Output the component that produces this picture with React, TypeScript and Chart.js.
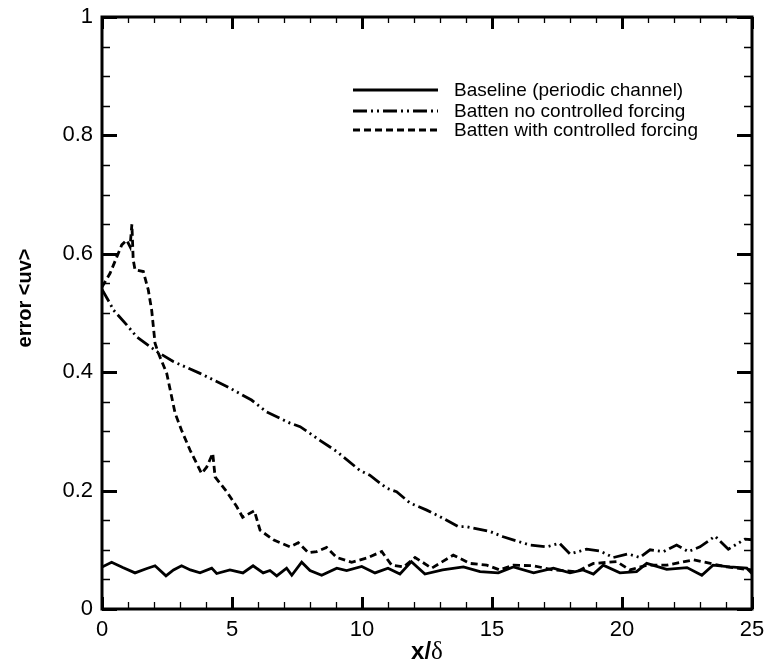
import React, { useEffect, useRef } from "react";
import { Chart, registerables } from "chart.js";

Chart.register(...registerables);

const seriesLabels = [
  "Baseline (periodic channel)",
  "Batten no controlled forcing",
  "Batten with controlled forcing",
];

const baselineX = [0, 0.37, 0.8, 1.27, 1.7, 2.04, 2.46, 2.75, 3.06, 3.4, 3.77, 4.22, 4.41, 4.92, 5.42, 5.81, 6.2, 6.46, 6.72, 7.1, 7.3, 7.68, 8.0, 8.45, 9.03, 9.41, 9.99, 10.5, 11.0, 11.46, 11.9, 12.42, 13.1, 13.9, 14.54, 15.24, 15.82, 16.6, 17.36, 18.0, 18.5, 18.9, 19.28, 19.92, 20.56, 20.95, 21.72, 22.5, 23.07, 23.5, 24.15, 24.8, 25];
const baselineY = [0.071, 0.079, 0.07, 0.061, 0.068, 0.073, 0.056, 0.066, 0.073, 0.066, 0.061, 0.069, 0.06, 0.066, 0.061, 0.073, 0.061, 0.065, 0.056, 0.069, 0.057, 0.079, 0.065, 0.057, 0.069, 0.065, 0.072, 0.061, 0.069, 0.059, 0.08, 0.059, 0.066, 0.071, 0.063, 0.061, 0.071, 0.061, 0.069, 0.061, 0.066, 0.059, 0.074, 0.061, 0.063, 0.077, 0.067, 0.07, 0.057, 0.074, 0.071, 0.069, 0.06];

const noForcingX = [0, 0.31, 0.44, 0.95, 1.33, 2.1, 2.74, 3.77, 4.8, 5.75, 6.33, 7.23, 7.62, 8.38, 9.03, 9.92, 10.3, 10.95, 11.33, 11.85, 12.49, 13.0, 13.71, 14.03, 14.92, 15.43, 15.95, 16.46, 17.1, 17.6, 18.0, 18.64, 19.15, 19.67, 20.24, 20.69, 21.08, 21.6, 22.1, 22.55, 23.0, 23.58, 24.09, 24.73, 25];
const noForcingY = [0.54, 0.516, 0.505, 0.48, 0.46, 0.435, 0.418, 0.398, 0.376, 0.353, 0.333, 0.314, 0.308, 0.285, 0.266, 0.234, 0.226, 0.204, 0.198, 0.179, 0.167, 0.156, 0.139, 0.139, 0.131, 0.122, 0.115, 0.108, 0.105, 0.111, 0.093, 0.101, 0.098, 0.087, 0.093, 0.087, 0.1, 0.097, 0.108, 0.097, 0.105, 0.123, 0.101, 0.118, 0.117];

const forcingX = [0, 0.31, 0.76, 0.95, 1.08, 1.15, 1.2, 1.27, 1.59, 1.78, 1.91, 2.04, 2.17, 2.49, 2.81, 3.06, 3.38, 3.83, 4.03, 4.26, 4.35, 4.8, 5.18, 5.41, 5.86, 6.08, 6.59, 7.23, 7.55, 7.94, 8.26, 8.64, 9.03, 9.6, 10.18, 10.76, 11.14, 11.6, 12.04, 12.68, 13.51, 14.15, 14.8, 15.3, 15.82, 16.6, 17.36, 18.26, 18.9, 19.8, 20.3, 20.95, 21.72, 22.74, 23.4, 24.03, 25];
const forcingY = [0.544, 0.567, 0.615, 0.623, 0.612, 0.65, 0.59, 0.573, 0.57, 0.539, 0.505, 0.449, 0.432, 0.398, 0.331, 0.302, 0.269, 0.229, 0.24, 0.263, 0.223, 0.198, 0.173, 0.155, 0.166, 0.133, 0.117, 0.105, 0.112, 0.095, 0.097, 0.104, 0.087, 0.079, 0.086, 0.097, 0.074, 0.071, 0.087, 0.069, 0.091, 0.077, 0.074, 0.066, 0.074, 0.073, 0.066, 0.063, 0.077, 0.08, 0.066, 0.074, 0.074, 0.083, 0.077, 0.071, 0.066];

const xTickStep = 5;
const yTickStep = 0.2;

const SANS = '"Liberation Sans", Arial, sans-serif';
const SERIF = '"Liberation Serif", "DejaVu Serif", serif';
const DASH_DOT_DOT = [14, 4, 2, 4, 2, 4];
const DASHED = [7, 4];

const toPoints = (xs: number[], ys: number[]) => xs.map((x, i) => ({ x, y: ys[i] }));

const decorPlugin = {
  id: "decor",
  afterDraw(chart: any) {
    const ctx = chart.ctx as CanvasRenderingContext2D;
    const { left, right, top, bottom } = chart.chartArea;
    const xs = chart.scales.x;
    const ys = chart.scales.y;
    ctx.save();
    ctx.strokeStyle = "#000";
    ctx.lineCap = "butt";
    for (let i = 0; i <= 25; i++) {
      const px = Math.round(xs.getPixelForValue(i)) + 0.5;
      const major = i % 5 === 0;
      ctx.lineWidth = major ? 3 : 1.3;
      const lb = major ? 12 : 7;
      const lt = major ? 12 : 6;
      ctx.beginPath();
      ctx.moveTo(px, bottom);
      ctx.lineTo(px, bottom - lb);
      ctx.moveTo(px, top);
      ctx.lineTo(px, top + lt);
      ctx.stroke();
    }
    for (let j = 0; j <= 20; j++) {
      const v = j * 0.05;
      const py = Math.round(ys.getPixelForValue(v)) + 0.5;
      const major = j % 4 === 0;
      ctx.lineWidth = major ? 3 : 1.3;
      const l = major ? 15 : 8;
      ctx.beginPath();
      ctx.moveTo(left, py);
      ctx.lineTo(left + l, py);
      ctx.moveTo(right, py);
      ctx.lineTo(right - l, py);
      ctx.stroke();
    }
    ctx.lineWidth = 3;
    ctx.strokeRect(left, top, right - left, bottom - top);

    const legendStyles = [[], DASH_DOT_DOT, DASHED];
    const rowsY = [90, 111, 130];
    ctx.font = `19px ${SANS}`;
    ctx.fillStyle = "#000";
    ctx.textBaseline = "middle";
    ctx.textAlign = "left";
    for (let k = 0; k < 3; k++) {
      ctx.setLineDash(legendStyles[k] as number[]);
      ctx.lineWidth = 2.8;
      ctx.beginPath();
      ctx.moveTo(353, rowsY[k]);
      ctx.lineTo(438, rowsY[k]);
      ctx.stroke();
      ctx.setLineDash([]);
      ctx.fillText(seriesLabels[k], 454, rowsY[k] + 1);
    }

    ctx.save();
    ctx.translate(25, 298);
    ctx.rotate(-Math.PI / 2);
    ctx.font = `bold 20px ${SANS}`;
    ctx.textAlign = "center";
    ctx.textBaseline = "middle";
    ctx.fillText("error <uv>", 0, 0);
    ctx.restore();

    const cx = (left + right) / 2;
    ctx.font = `bold 24px ${SANS}`;
    const w1 = ctx.measureText("x/").width;
    ctx.font = `25px ${SERIF}`;
    const w2 = ctx.measureText("δ").width;
    const startX = cx - (w1 + w2) / 2;
    ctx.textAlign = "left";
    ctx.textBaseline = "alphabetic";
    ctx.font = `bold 24px ${SANS}`;
    ctx.fillText("x/", startX, 659);
    ctx.font = `25px ${SERIF}`;
    ctx.fillText("δ", startX + w1, 659);
    ctx.restore();
  },
};

export default function App() {
  const ref = useRef<HTMLCanvasElement | null>(null);
  useEffect(() => {
    if (!ref.current) return;
    const chart = new Chart(ref.current, {
      type: "line",
      data: {
        datasets: [
          {
            label: seriesLabels[0],
            data: toPoints(baselineX, baselineY),
            borderColor: "#000",
            borderWidth: 2.8,
            pointRadius: 0,
            tension: 0,
          },
          {
            label: seriesLabels[1],
            data: toPoints(noForcingX, noForcingY),
            borderColor: "#000",
            borderWidth: 2.8,
            borderDash: DASH_DOT_DOT,
            pointRadius: 0,
            tension: 0,
          },
          {
            label: seriesLabels[2],
            data: toPoints(forcingX, forcingY),
            borderColor: "#000",
            borderWidth: 2.8,
            borderDash: DASHED,
            pointRadius: 0,
            tension: 0,
          },
        ],
      },
      options: {
        responsive: false,
        animation: false,
        layout: { padding: { top: 17, right: 22, left: 0, bottom: 0 } },
        plugins: {
          legend: { display: false },
          tooltip: { enabled: false },
        },
        scales: {
          x: {
            type: "linear",
            min: 0,
            max: 25,
            ticks: {
              stepSize: xTickStep,
              color: "#000",
              font: { size: 22, family: SANS },
              padding: 8,
              maxRotation: 0,
              callback: (v: any) => String(v),
            },
            grid: { display: false, drawTicks: false },
            border: { display: false },
            afterFit: (s: any) => {
              s.height = 57;
              s.paddingLeft = 0;
              s.paddingRight = 0;
            },
          },
          y: {
            type: "linear",
            min: 0,
            max: 1,
            ticks: {
              stepSize: yTickStep,
              color: "#000",
              font: { size: 22, family: SANS },
              padding: 9,
              callback: (v: any) => String(Math.round(Number(v) * 10) / 10),
            },
            grid: { display: false, drawTicks: false },
            border: { display: false },
            afterFit: (s: any) => {
              s.width = 102;
              s.paddingTop = 0;
              s.paddingBottom = 0;
            },
          },
        },
      },
      plugins: [decorPlugin],
    });
    return () => chart.destroy();
  }, []);
  return (
    <div style={{ position: "absolute", left: 0, top: 0, width: 774, height: 666, background: "#fff" }}>
      <canvas ref={ref} width={774} height={666} style={{ width: 774, height: 666, display: "block" }} />
    </div>
  );
}
